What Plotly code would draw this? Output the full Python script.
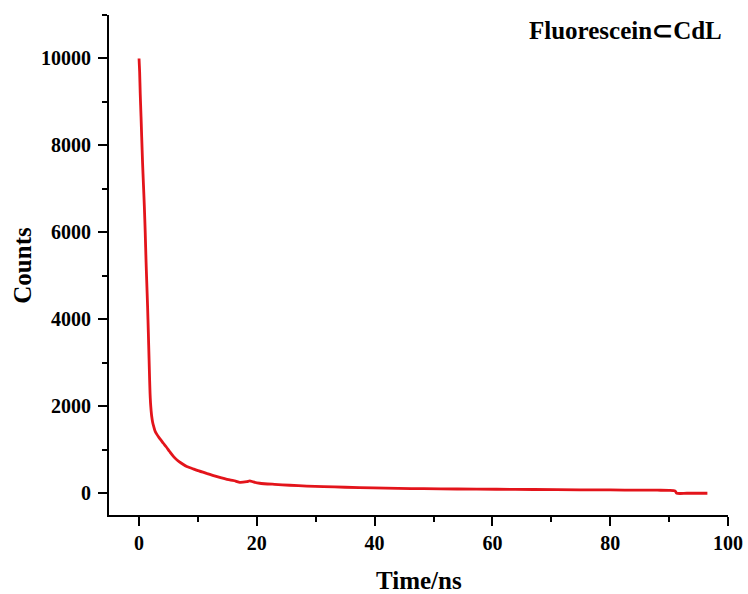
import plotly.graph_objects as go

time_ns = [0.0, 0.1, 0.2, 0.34, 0.45, 0.6, 0.75, 0.9, 1.05, 1.2, 1.3, 1.45, 1.58, 1.7, 1.8, 1.87,
           1.95, 2.05, 2.15, 2.3, 2.5, 2.7, 3.0, 3.4, 3.8, 4.13, 4.6, 5.2, 5.83, 6.5, 7.2, 8.1,
           9.0, 10.0, 11.5, 12.8, 14.0, 15.4, 16.4,
           17.1, 18.3, 18.8, 19.4, 20.5, 23.0, 25.6, 28.5, 31.3, 35.0, 39.8, 44.0, 48.3,
           54.0, 60.7, 67.0, 74.9, 80.0, 85.0, 88.0, 90.0, 91.0, 91.3, 93.0, 96.5]
counts = [10000, 9700, 9200, 8660, 8200, 7600, 7100, 6600, 6000, 5300, 4900, 4300, 3700, 3100, 2600, 2300,
          2080, 1900, 1770, 1640, 1530, 1440, 1360, 1280, 1210, 1150, 1070, 960, 850, 760, 690, 615,
          570, 520, 455, 400, 355, 306, 280,
          250, 267, 285, 260, 230, 205, 184, 165, 152, 138, 122, 112, 106,
          98, 92, 86, 78, 76, 72, 70, 68, 55, 0, 0, 0]

x_ticks = [0, 20, 40, 60, 80, 100]
y_ticks = [0, 2000, 4000, 6000, 8000, 10000]

FONT = "Liberation Serif"

fig = go.Figure()
fig.add_trace(go.Scatter(x=time_ns, y=counts, mode="lines",
                         line=dict(color="#e3141b", width=2.8, shape="spline", smoothing=0.6),
                         showlegend=False))

axis_common = dict(showline=True, linecolor="black", linewidth=2, mirror=False,
                   ticks="outside", ticklen=9, tickwidth=2, tickcolor="black",
                   showgrid=False, zeroline=False, automargin=False,
                   tickfont=dict(family=FONT, size=20, color="black", weight="bold"))

fig.update_xaxes(range=[-5.1, 100], tickvals=x_ticks, ticktext=[str(v) for v in x_ticks],
                 minor=dict(dtick=10, tick0=0, ticks="outside", ticklen=5, tickwidth=2, tickcolor="black"),
                 **axis_common)
fig.update_yaxes(range=[-500, 11000], tickvals=y_ticks, ticktext=[str(v) for v in y_ticks],
                 ticklabelstandoff=3,
                 minor=dict(dtick=1000, tick0=0, ticks="outside", ticklen=5, tickwidth=2, tickcolor="black"),
                 **axis_common)

fig.add_annotation(text="Counts", xref="paper", yref="paper", x=-0.141, y=0.5,
                   textangle=-90, showarrow=False, xanchor="center", yanchor="middle",
                   font=dict(family=FONT, size=25, color="black", weight="bold"))
fig.add_annotation(text="Time/ns", xref="paper", yref="paper", x=0.5, y=-0.13,
                   showarrow=False, xanchor="center", yanchor="middle",
                   font=dict(family=FONT, size=25, color="black", weight="bold"))
fig.add_annotation(text="Fluorescein⊂CdL", xref="paper", yref="paper", x=0.834, y=0.97,
                   showarrow=False, xanchor="center", yanchor="middle",
                   font=dict(family=FONT, size=25, color="black", weight="bold"))

fig.update_layout(width=748, height=594, margin=dict(l=109, r=20, t=15, b=79),
                  plot_bgcolor="white", paper_bgcolor="white")

fig.write_html("out.html")
